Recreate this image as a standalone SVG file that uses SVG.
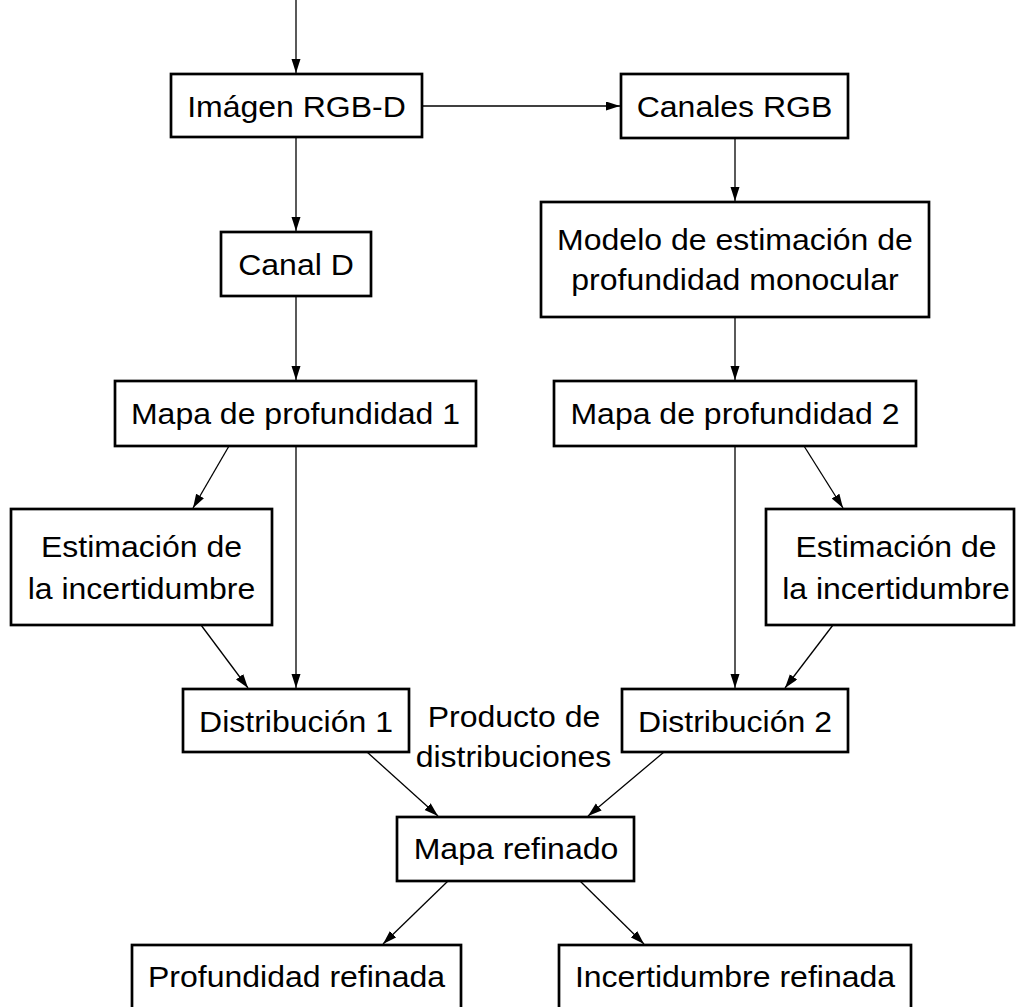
<svg xmlns="http://www.w3.org/2000/svg" width="1016" height="1007" viewBox="0 0 1016 1007">
  <style>
    .box { fill: #ffffff; stroke: #000000; stroke-width: 2.7; }
    .edge { fill: none; stroke: #000000; stroke-width: 1.3; marker-end: url(#arrow); }
    .lbl { font-family: "Liberation Sans", Arial, sans-serif; font-size: 29px; fill: #000000; text-anchor: middle; }
  </style>
  <defs>
    <marker id="arrow" markerUnits="userSpaceOnUse" markerWidth="14" markerHeight="10" refX="14" refY="4.5" orient="auto">
      <path d="M0,0 L14,4.5 L0,9 z" fill="#000000"/>
    </marker>
  </defs>
  <rect width="1016" height="1007" fill="#ffffff"/>

  <!-- connectors -->
  <g id="connectors">
    <line class="edge" x1="296" y1="0" x2="296" y2="73"/>
    <line class="edge" x1="422" y1="106" x2="620" y2="106"/>
    <line class="edge" x1="296" y1="137" x2="296" y2="231"/>
    <line class="edge" x1="296" y1="296" x2="296" y2="380"/>
    <line class="edge" x1="735" y1="138" x2="735" y2="201"/>
    <line class="edge" x1="735" y1="317" x2="735" y2="380"/>
    <line class="edge" x1="229" y1="446" x2="193" y2="508"/>
    <line class="edge" x1="296" y1="446" x2="296" y2="688"/>
    <line class="edge" x1="201" y1="625" x2="248" y2="688"/>
    <line class="edge" x1="735" y1="446" x2="735" y2="688"/>
    <line class="edge" x1="804" y1="446" x2="843" y2="508"/>
    <line class="edge" x1="833" y1="625" x2="785" y2="688"/>
    <line class="edge" x1="367" y1="752" x2="438" y2="816"/>
    <line class="edge" x1="664" y1="752" x2="588" y2="816"/>
    <line class="edge" x1="448" y1="881" x2="383" y2="944"/>
    <line class="edge" x1="580" y1="881" x2="644" y2="944"/>
  </g>

  <!-- nodes -->
  <g id="imagen-rgbd">
    <rect class="box" x="171" y="74" width="251" height="63"/>
    <text class="lbl" x="0" y="117" transform="translate(296.5 0) scale(1.104 1)">Imágen RGB-D</text>
  </g>
  <g id="canales-rgb">
    <rect class="box" x="621" y="74" width="227" height="64"/>
    <text class="lbl" x="0" y="117" transform="translate(734.5 0) scale(1.104 1)">Canales RGB</text>
  </g>
  <g id="canal-d">
    <rect class="box" x="221" y="232" width="150" height="64"/>
    <text class="lbl" x="0" y="275.5" transform="translate(296 0) scale(1.104 1)">Canal D</text>
  </g>
  <g id="modelo-monocular">
    <rect class="box" x="541" y="202" width="388" height="115"/>
    <text class="lbl" x="0" y="250" transform="translate(735 0) scale(1.104 1)">Modelo de estimación de</text>
    <text class="lbl" x="0" y="290" transform="translate(735 0) scale(1.104 1)">profundidad monocular</text>
  </g>
  <g id="mapa-1">
    <rect class="box" x="115" y="381" width="361" height="65"/>
    <text class="lbl" x="0" y="424" transform="translate(295.5 0) scale(1.104 1)">Mapa de profundidad 1</text>
  </g>
  <g id="mapa-2">
    <rect class="box" x="554" y="381" width="362" height="65"/>
    <text class="lbl" x="0" y="424" transform="translate(735 0) scale(1.104 1)">Mapa de profundidad 2</text>
  </g>
  <g id="incertidumbre-1">
    <rect class="box" x="11" y="509" width="261" height="116"/>
    <text class="lbl" x="0" y="557" transform="translate(141.5 0) scale(1.104 1)">Estimación de</text>
    <text class="lbl" x="0" y="599" transform="translate(141.5 0) scale(1.104 1)">la incertidumbre</text>
  </g>
  <g id="incertidumbre-2">
    <rect class="box" x="766" y="509" width="248" height="116"/>
    <text class="lbl" x="0" y="557" transform="translate(896 0) scale(1.104 1)">Estimación de</text>
    <text class="lbl" x="0" y="599" transform="translate(896 0) scale(1.104 1)">la incertidumbre</text>
  </g>
  <g id="distribucion-1">
    <rect class="box" x="183" y="689" width="226" height="63"/>
    <text class="lbl" x="0" y="732" transform="translate(296 0) scale(1.104 1)">Distribución 1</text>
  </g>
  <g id="distribucion-2">
    <rect class="box" x="622" y="689" width="226" height="63"/>
    <text class="lbl" x="0" y="732" transform="translate(735 0) scale(1.104 1)">Distribución 2</text>
  </g>
  <g id="producto-label">
    <text class="lbl" x="0" y="727" transform="translate(514 0) scale(1.104 1)">Producto de</text>
    <text class="lbl" x="0" y="767" transform="translate(513.5 0) scale(1.104 1)">distribuciones</text>
  </g>
  <g id="mapa-refinado">
    <rect class="box" x="397" y="817" width="237" height="64"/>
    <text class="lbl" x="0" y="859" transform="translate(516 0) scale(1.104 1)">Mapa refinado</text>
  </g>
  <g id="profundidad-refinada">
    <rect class="box" x="132" y="945" width="329" height="64"/>
    <text class="lbl" x="0" y="987" transform="translate(296.5 0) scale(1.104 1)">Profundidad refinada</text>
  </g>
  <g id="incertidumbre-refinada">
    <rect class="box" x="559" y="945" width="352" height="64"/>
    <text class="lbl" x="0" y="987" transform="translate(735 0) scale(1.104 1)">Incertidumbre refinada</text>
  </g>
</svg>
